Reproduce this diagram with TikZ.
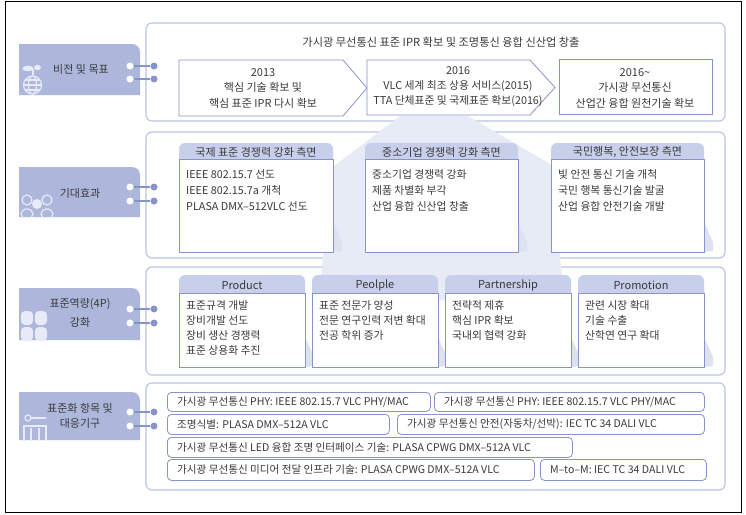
\documentclass[tikz,border=0pt]{standalone}
\usepackage{fontspec}
\setmainfont{Noto Sans CJK KR}
\definecolor{labfill}{HTML}{ADB7DC}
\definecolor{hdrfill}{HTML}{C8CFEA}
\definecolor{bdcol}{HTML}{8893CC}
\definecolor{pancol}{HTML}{B9C2E3}
\definecolor{beamcol}{HTML}{E7EBF6}
\definecolor{shadecol}{HTML}{DDE2F1}
\definecolor{txtcol}{HTML}{3A3A3A}
\definecolor{iconcol}{HTML}{E8EBF7}
\tikzset{
  every node/.style={font=\fontsize{11}{16}\selectfont, text=txtcol, inner sep=0pt},
  panel/.style={draw=pancol, line width=1.1pt, rounded corners=6pt, fill=white},
  wdot/.style={circle, fill=white, minimum size=7pt},
  bdot/.style={circle, fill=bdcol, minimum size=7pt},
  conn/.style={draw=bdcol, line width=1.6pt},
  chev/.style={draw=bdcol, line width=0.8pt, fill=white},
  bodybox/.style={draw=bdcol, line width=0.8pt, fill=white, rectangle},
  rowbox/.style={draw=bdcol, line width=0.8pt, fill=white, rounded corners=4pt, rectangle},
  rowtxt/.style={font=\fontsize{10.6}{14}\selectfont},
  bodytxt/.style={font=\fontsize{10.8}{16}\selectfont},
  icon/.style={draw=iconcol, line width=1.2pt},
  iconf/.style={fill=iconcol},
}
\def\bodyoff{10}
% name, x, top, width, header bottom, bottom, header, body
\newcommand{\hbx}[8]{%
  \fill[shadecol] ({#2+#4},{#6-30}) -- ({#2+#4+9},{#6-10}) -- ({#2+#4+9},{#6-1}) -- ({#2+#4},{#6}) -- cycle;
  \fill[hdrfill, rounded corners=6pt] (#2,#3) rectangle ({#2+#4},{#5+8});
  \node[bodybox, anchor=north west, minimum width=#4pt, minimum height={#6-#5}] (#1) at (#2,#5) {};
  \node (#1h) at ({#2+#4/2},{(#3+#5)/2+1}) {#7};
  \node[bodytxt, anchor=north west, align=left] (#1t) at ({#2+7},{#5+\bodyoff}) {#8};
}
% name, x, y, w, h, text
\newcommand{\rbx}[6]{%
  \node[rowbox, anchor=north west, minimum width=#4pt, minimum height=#5pt] (#1) at (#2,#3) {};
  \node[rowtxt, anchor=west] (#1t) at ([xshift=10pt]#1.west) {#6};
}
% top, bottom
\newcommand{\lbx}[2]{%
  \fill[labfill] (19,#2) -- (19,#1) -- (132,#1) .. controls (136.4,#1) and (140,{#1+3.6}) .. (140,{#1+8}) -- (140,#2) -- cycle;
}
\begin{document}
\begin{tikzpicture}[x=1pt,y=-1pt]
\useasboundingbox (0,0) rectangle (746,514);
\fill[white] (0,0) rectangle (746,514);
\draw[black, line width=0.9pt] (5,1.5) rectangle (741.5,512);

% panels
\draw[panel] (146,23) rectangle (725,121);
\draw[panel] (146,132) rectangle (725,258);
\draw[panel] (146,267) rectangle (725,375);
\draw[panel] (146,383) rectangle (725,490);

% light beam
\fill[beamcol] (400,116) -- (468,116) -- (552,165) -- (564,300) -- (318,300) -- (334,166) -- cycle;

% label boxes
\lbx{44}{95}
\lbx{167}{217}
\lbx{288}{340}
\lbx{392}{440}

% icons
\begin{scope}
  \clip (19,44) rectangle (140,95);
  \fill[iconf] (28,68.5) ellipse (5.5 and 2.8);
  \fill[iconf] (37.5,67.5) ellipse (3.5 and 2.6);
  \draw[icon] (33,69) -- (33,75);
  \draw[icon] (32.5,85) circle (9);
  \draw[icon] (32.5,85) ellipse (4 and 9);
  \draw[icon] (23.5,85) -- (41.5,85);
  \draw[icon] (25,80) -- (40,80);
  \draw[icon] (25,90) -- (40,90);
\end{scope}
\begin{scope}
  \clip (19,167) rectangle (140,217);
  \draw[icon] (27,200) circle (5);
  \draw[icon] (47,200) circle (5);
  \draw[icon] (27,214) ellipse (6 and 5);
  \draw[icon] (47,214) ellipse (6 and 5);
  \fill[iconf] (37,204) circle (5);
\end{scope}
\begin{scope}
  \clip (19,288) rectangle (140,340);
  \fill[iconf, rounded corners=4pt] (21,311) rectangle (33,325);
  \fill[iconf, rounded corners=4pt] (35,311) rectangle (47,325);
  \fill[iconf, rounded corners=4pt] (21,327) rectangle (33,341);
  \fill[iconf, rounded corners=4pt] (35,327) rectangle (47,341);
\end{scope}
\begin{scope}
  \clip (19,392) rectangle (140,440);
  \draw[icon] (28,418) circle (3);
  \draw[icon] (31,418) -- (46,418);
  \draw[icon] (24,426) rectangle (46,442);
  \draw[icon] (31,428) -- (31,442);
  \draw[icon] (39,428) -- (39,442);
\end{scope}

% label texts
\node (l1) at (81,69) {비전 및 목표};
\node (l2) at (80,193) {기대효과};
\node[align=center, font=\fontsize{11}{19}\selectfont] (l3) at (80,312.5) {표준역량(4P)\\강화};
\node[align=center, font=\fontsize{11}{15}\selectfont] (l4) at (80,415.5) {표준화 항목 및\\대응기구};

% dots and connectors
\node[wdot] (w1a) at (130,66) {};  \node[bdot] (b1a) at (154,66) {};
\node[wdot] (w1b) at (130,79) {};  \node[bdot] (b1b) at (154,79) {};
\node[wdot] (w2a) at (130,187) {}; \node[bdot] (b2a) at (154,187) {};
\node[wdot] (w2b) at (130,201) {}; \node[bdot] (b2b) at (154,201) {};
\node[wdot] (w3a) at (130,309) {}; \node[bdot] (b3a) at (154,309) {};
\node[wdot] (w3b) at (130,323) {}; \node[bdot] (b3b) at (154,323) {};
\node[wdot] (w4a) at (130,412) {}; \node[bdot] (b4a) at (154,412) {};
\node[wdot] (w4b) at (130,426) {}; \node[bdot] (b4b) at (154,426) {};
\foreach \n in {1a,1b,2a,2b,3a,3b,4a,4b} {
  \draw[conn] (w\n) -- (b\n);
}

% section 1
\node[font=\fontsize{11.2}{16}\selectfont] (title) at (441,42) {가시광 무선통신 표준 IPR 확보 및 조명통신 융합 신산업 창출};
\draw[chev] (179,60) -- (343,60) -- (367,88) -- (343,116) -- (179,116) -- cycle;
\draw[chev] (367,60) -- (530,60) -- (555,87.5) -- (530,115) -- (367,115) -- cycle;
\draw[chev] (559,59) rectangle (712,114);
\node[align=center, font=\fontsize{11}{15.5}\selectfont] (y1) at (263,88) {2013\\핵심 기술 확보 및\\핵심 표준 IPR 다시 확보};
\node[align=center, font=\fontsize{10.8}{15}\selectfont] (y2) at (458,87) {2016\\VLC 세계 최조 상용 서비스(2015)\\TTA 단체표준 및 국제표준 확보(2016)};
\node[align=center, font=\fontsize{11}{15.5}\selectfont] (y3) at (635,88) {2016\char`~\\가시광 무선통신\\산업간 융합 원천기술 확보};

% section 2
\hbx{ea}{179}{143}{154}{159}{252}{국제 표준 경쟁력 강화 측면}{IEEE 802.15.7 선도\\IEEE 802.15.7a 개척\\PLASA DMX–512VLC 선도}
\hbx{eb}{365}{143}{153}{159}{252}{중소기업 경쟁력 강화 측면}{중소기업 경쟁력 강화\\제품 차별화 부각\\산업 융합 신산업 창출}
\hbx{ec}{551}{143}{153}{159}{252}{국민행복, 안전보장 측면}{빛 안전 통신 기술 개척\\국민 행복 통신기술 발굴\\산업 융합 안전기술 개발}

% section 3
\def\bodyoff{7}
\tikzset{bodytxt/.style={font=\fontsize{10.8}{15}\selectfont}}
\hbx{pa}{179}{275}{126}{293}{367}{Product}{표준규격 개발\\장비개발 선도\\장비 생산 경쟁력\\표준 상용화 추진}
\hbx{pb}{312}{275}{126}{293}{367}{Peolple}{표준 전문가 양성\\전문 연구인력 저변 확대\\전공 학위 증가}
\hbx{pc}{445}{275}{126}{293}{367}{Partnership}{전략적 제휴\\핵심 IPR 확보\\국내외 협력 강화}
\hbx{pd}{578}{275}{126}{293}{367}{Promotion}{관련 시장 확대\\기술 수출\\산학연 연구 확대}

% section 4
\rbx{r1a}{167}{392}{263}{19}{가시광 무선통신 PHY: IEEE 802.15.7 VLC PHY/MAC}
\rbx{r1b}{434}{392}{270}{19}{가시광 무선통신 PHY: IEEE 802.15.7 VLC PHY/MAC}
\rbx{r2a}{167}{414}{222}{20}{조명식별: PLASA DMX–512A VLC}
\rbx{r2b}{397}{414}{307}{20}{가시광 무선통신 안전(자동차/선박): IEC TC 34 DALI VLC}
\rbx{r3}{167}{437}{405}{20}{가시광 무선통신 LED 융합 조명 인터페이스 기술: PLASA CPWG DMX–512A VLC}
\rbx{r4a}{167}{459}{367}{21}{가시광 무선통신 미디어 전달 인프라 기술: PLASA CPWG DMX–512A VLC}
\rbx{r4b}{540}{459}{166}{21}{M–to–M: IEC TC 34 DALI VLC}
\end{tikzpicture}
\end{document}
